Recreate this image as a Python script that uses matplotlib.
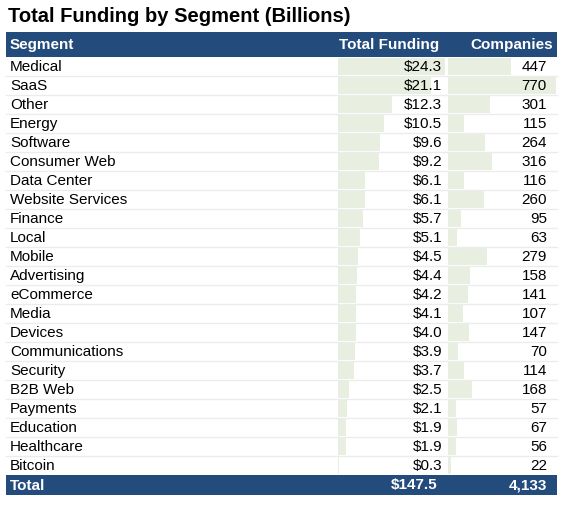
import matplotlib
matplotlib.use("Agg")
import matplotlib.pyplot as plt
import numpy as np

plt.rcParams['font.family'] = ['Liberation Sans', 'DejaVu Sans']

# table data
segments = ["Medical", "SaaS", "Other", "Energy", "Software", "Consumer Web",
            "Data Center", "Website Services", "Finance", "Local", "Mobile",
            "Advertising", "eCommerce", "Media", "Devices", "Communications",
            "Security", "B2B Web", "Payments", "Education", "Healthcare", "Bitcoin"]
funding = [24.3, 21.1, 12.3, 10.5, 9.6, 9.2, 6.1, 6.1, 5.7, 5.1, 4.5,
           4.4, 4.2, 4.1, 4.0, 3.9, 3.7, 2.5, 2.1, 1.9, 1.9, 0.3]
companies = [447, 770, 301, 115, 264, 316, 116, 260, 95, 63, 279,
             158, 141, 107, 147, 70, 114, 168, 57, 67, 56, 22]
headers = ["Segment", "Total Funding", "Companies"]
total_label = "Total"
total_funding = "$147.5"
total_companies = "4,133"

navy = "#234b7b"
barcol = "#e9efe0"
fs = 11

fig = plt.figure(figsize=(5.64, 5.08), dpi=100)
ax = fig.add_axes([0, 0, 1, 1])
ax.set_xlim(0, 564)
ax.set_ylim(508, 0)
ax.axis("off")

# layout in pixels
x0, x1 = 6, 557
head_top, head_h = 32, 25
row_h = 19
n = len(segments)
rows_top = head_top + head_h
centers = rows_top + row_h * np.arange(n) + row_h / 2
total_top = rows_top + n * row_h

ax.text(8, 17, "Total Funding by Segment (Billions)", fontsize=14.5,
        fontweight="bold", va="center", ha="left")

# header
ax.add_patch(plt.Rectangle((x0, head_top), x1 - x0, head_h, color=navy, lw=0))
hy = head_top + head_h / 2 + 0.5
ax.text(10, hy, headers[0], color="white", fontweight="bold", fontsize=fs, va="center")
ax.text(439, hy, headers[1], color="white", fontweight="bold", fontsize=fs, va="center", ha="right")
ax.text(553, hy, headers[2], color="white", fontweight="bold", fontsize=fs, va="center", ha="right")

# bars
f_left, f_width = 338, 107
c_left, c_width = 448, 108
fscale = f_width / max(funding)
cscale = c_width / max(companies)
ax.barh(centers, np.array(funding) * fscale, left=f_left, height=17, color=barcol, lw=0)
ax.barh(centers, np.array(companies) * cscale, left=c_left, height=17, color=barcol, lw=0)

# row separators
for i in range(1, n):
    yy = rows_top + i * row_h
    ax.plot([x0, x1], [yy, yy], color="#ececec", lw=1)

for i in range(n):
    ax.text(10, centers[i] + 0.5, segments[i], fontsize=fs, va="center")
    ax.text(442, centers[i] + 0.5, "$%.1f" % funding[i], fontsize=fs, va="center", ha="right")
    ax.text(547, centers[i] + 0.5, "%d" % companies[i], fontsize=fs, va="center", ha="right")

# total row
ax.add_patch(plt.Rectangle((x0, total_top), x1 - x0, 20, color=navy, lw=0))
ty = total_top + 10.5
ax.text(10, ty, total_label, color="white", fontweight="bold", fontsize=fs, va="center")
ax.text(437, ty, total_funding, color="white", fontweight="bold", fontsize=fs, va="center", ha="right")
ax.text(547, ty, total_companies, color="white", fontweight="bold", fontsize=fs, va="center", ha="right")

fig.savefig("out.png", dpi=100)
